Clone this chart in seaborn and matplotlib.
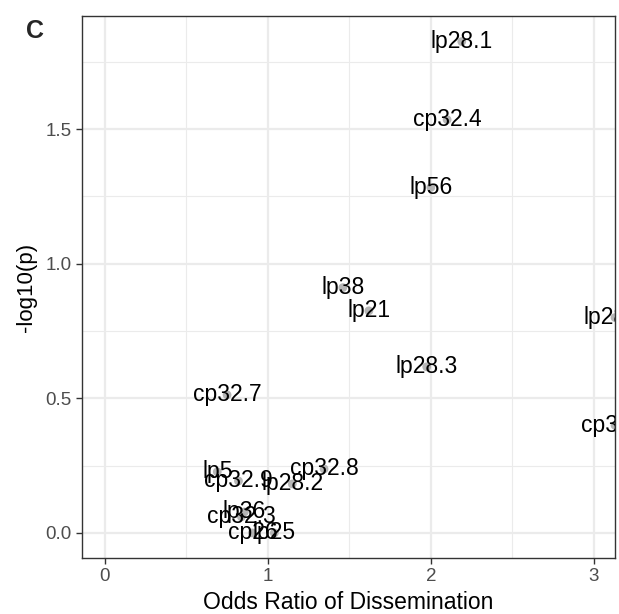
import matplotlib
matplotlib.use("Agg")
import matplotlib.pyplot as plt
import seaborn as sns
import pandas as pd

# Plasmid association with dissemination
plasmids = ["lp28.1", "cp32.4", "lp56", "lp38", "lp21", "lp28.3", "lp28.4", "cp32.1",
            "cp32.7", "lp5", "cp32.9", "lp28.2", "cp32.8", "lp36", "cp32.3", "cp26", "lp25"]
odds_ratio = [2.19, 2.10, 2.00, 1.46, 1.62, 1.975, 3.13, 3.13,
              0.75, 0.69, 0.82, 1.15, 1.345, 0.856, 0.838, 0.905, 1.04]
neg_log10_p = [1.825, 1.535, 1.283, 0.911, 0.825, 0.617, 0.80, 0.40,
               0.513, 0.227, 0.193, 0.182, 0.238, 0.078, 0.060, 0.0, 0.0]

x_ticks = [0, 1, 2, 3]
y_ticks = [0.0, 0.5, 1.0, 1.5]
y_ticklabels = ["0.0", "0.5", "1.0", "1.5"]

df = pd.DataFrame({"plasmid": plasmids, "or": odds_ratio, "p": neg_log10_p})

sns.set_theme(style="white")
plt.rcParams["font.family"] = ["Liberation Sans", "DejaVu Sans"]

fig = plt.figure(figsize=(6.19, 6.14), dpi=100)
ax = fig.add_axes([82 / 619, 1 - 558 / 614, (615 - 82) / 619, (558 - 16) / 614])

# grid: major + minor like a bw theme
for v in [0.5, 1.5, 2.5]:
    ax.axvline(v, color="#EBEBEB", lw=0.8, zorder=0)
for v in [0.25, 0.75, 1.25, 1.75]:
    ax.axhline(v, color="#EBEBEB", lw=0.8, zorder=0)
for v in x_ticks:
    ax.axvline(v, color="#EBEBEB", lw=1.6, zorder=0)
for v in y_ticks:
    ax.axhline(v, color="#EBEBEB", lw=1.6, zorder=0)

sns.scatterplot(data=df, x="or", y="p", ax=ax, color="#AAAAAA", s=40,
                edgecolor="none", alpha=0.85, zorder=2, legend=False)

for name, xv, yv in zip(df["plasmid"], df["or"], df["p"]):
    ax.text(xv, yv, name, ha="center", va="center", fontsize=16.5,
            color="black", zorder=3, clip_on=True)

ax.set_xlim(-0.14, 3.13)
ax.set_ylim(-0.093, 1.92)
ax.set_xticks(x_ticks)
ax.set_xticklabels([str(t) for t in x_ticks])
ax.set_yticks(y_ticks)
ax.set_yticklabels(y_ticklabels)
ax.tick_params(axis="both", which="major", length=4, width=1, color="#333333",
               labelcolor="#4D4D4D", labelsize=13.5, direction="out",
               bottom=True, left=True)
for sp in ax.spines.values():
    sp.set_color("#333333")
    sp.set_linewidth(1.0)

ax.set_xlabel("Odds Ratio of Dissemination", fontsize=16.5, color="black", labelpad=4)
ax.set_ylabel("-log10(p)", fontsize=16, color="black", labelpad=6)

fig.text(35 / 619, 1 - 31 / 614, "C", fontsize=18, fontweight="bold",
         ha="center", va="center")

fig.savefig("out.png", dpi=100)
